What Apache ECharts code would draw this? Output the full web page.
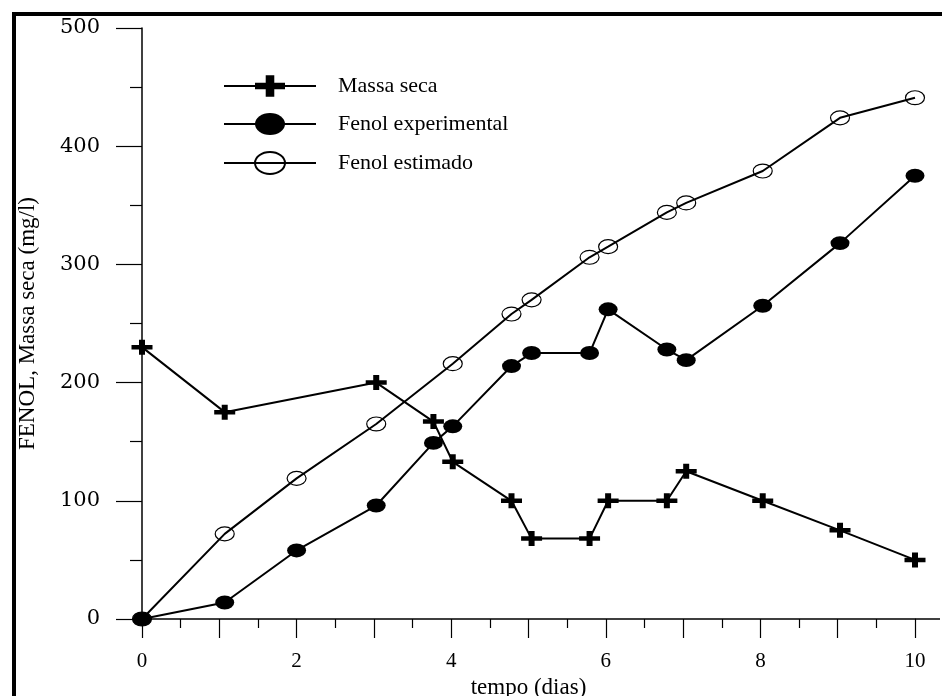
<!DOCTYPE html>
<html>
<head>
<meta charset="utf-8">
<script src="https://cdn.jsdelivr.net/npm/echarts@6/dist/echarts.min.js"></script>
<style>
html,body{margin:0;padding:0;background:#fff;}
#chart{width:942px;height:696px;}
</style>
</head>
<body>
<div id="chart"></div>
<script>
// sampling times (days)
const tempo = [0, 1.07, 2.0, 3.03, 3.77, 4.02, 4.78, 5.04, 5.79, 6.03, 6.79, 7.04, 8.03, 9.03, 10.0];
// Massa seca (mg/l)
const massaSeca = [230, 175, null, 200, 167, 133, 100, 68, 68, 100, 100, 125, 100, 75, 50];
// Fenol experimental (mg/l)
const fenolExp = [0, 14, 58, 96, 149, 163, 214, 225, 225, 262, 228, 219, 265, 318, 375];
// Fenol estimado (mg/l)
const fenolEst = [0, 72, 119, 165, null, 216, 258, 270, 306, 315, 344, 352, 379, 424, 441];

const seriesNames = ['Massa seca', 'Fenol experimental', 'Fenol estimado'];
const xLabels = [0, 2, 4, 6, 8, 10];

function pairs(vals) {
  const out = [];
  for (let i = 0; i < tempo.length; i++) {
    if (vals[i] !== null) out.push([tempo[i], vals[i]]);
  }
  return out;
}

// symbols padded into square boxes (invisible move points) so legend and plot share shape
const CROSS = 'path://M0,0M28,28M10,4H18V11H28V17H18V24H10V17H0V11H10Z';
const ELLIPSE = 'path://M0,0M30,30M0,15A15,11 0 1,1 30,15A15,11 0 1,1 0,15Z';

const serif = 'Liberation Serif, Times New Roman, serif';

const chart = echarts.init(document.getElementById('chart'), null, {renderer: 'canvas'});
const lineStyle = {color: '#000', width: 2};

chart.setOption({
  animation: false,
  backgroundColor: '#fff',
  grid: {left: 142, top: 28, right: 27, bottom: 77, containLabel: false, outerBoundsMode: 'none'},
  legend: {
    orient: 'vertical',
    left: 218,
    top: 66,
    itemWidth: 92,
    itemHeight: 37.5,
    itemGap: 8,
    selectedMode: false,
    data: seriesNames,
    textStyle: {fontFamily: serif, fontSize: 22, color: '#000', padding: [0, 0, 0, 17]}
  },
  xAxis: {
    type: 'value',
    min: 0, max: 10, interval: 1,
    name: 'tempo (dias)',
    nameLocation: 'middle',
    nameGap: 56,
    nameTextStyle: {fontFamily: serif, fontSize: 23, color: '#000'},
    axisLine: {show: true, lineStyle: {color: '#000', width: 1.5}},
    axisTick: {show: true, length: 19, lineStyle: {color: '#000', width: 1.2}},
    minorTick: {show: true, splitNumber: 2, length: 9, lineStyle: {color: '#000', width: 1.2}},
    splitLine: {show: false},
    axisLabel: {
      margin: 32, fontFamily: serif, fontSize: 21, color: '#000',
      formatter: v => (xLabels.indexOf(v) >= 0 ? String(v) : '')
    }
  },
  yAxis: {
    type: 'value',
    min: 0, max: 500, interval: 100,
    name: 'FENOL, Massa seca (mg/l)',
    nameLocation: 'middle',
    nameGap: 103,
    nameTextStyle: {fontFamily: serif, fontSize: 23, color: '#000'},
    axisLine: {show: true, lineStyle: {color: '#000', width: 1.5}},
    axisTick: {show: true, length: 26, lineStyle: {color: '#000', width: 1.2}},
    minorTick: {show: true, splitNumber: 2, length: 12, lineStyle: {color: '#000', width: 1.2}},
    splitLine: {show: false},
    axisLabel: {margin: 42, fontFamily: 'DejaVu Serif, serif', fontSize: 21, color: '#000'}
  },
  series: [
    {
      name: seriesNames[0], type: 'line', data: pairs(massaSeca),
      symbol: CROSS, symbolSize: [21, 21],
      itemStyle: {color: '#000'}, lineStyle: lineStyle, z: 3
    },
    {
      name: seriesNames[1], type: 'line', data: pairs(fenolExp),
      symbol: ELLIPSE, symbolSize: [19, 19],
      itemStyle: {color: '#000'}, lineStyle: lineStyle, z: 3
    },
    {
      name: seriesNames[2], type: 'line', data: pairs(fenolEst),
      symbol: ELLIPSE, symbolSize: [19, 19],
      itemStyle: {color: 'rgba(0,0,0,0)', borderColor: '#000', borderWidth: 1.2},
      lineStyle: lineStyle, z: 3
    }
  ]
});

// frame and x-axis line continuation beyond 10
const p10 = chart.convertToPixel({gridIndex: 0}, [10, 0]);
chart.setOption({
  graphic: [
    {type: 'rect', shape: {x: 14, y: 14, width: 1200, height: 1200}, style: {fill: 'none', stroke: '#000', lineWidth: 4}, silent: true},
    {type: 'line', shape: {x1: p10[0], y1: p10[1], x2: 940, y2: p10[1]}, style: {stroke: '#000', lineWidth: 1.5}, silent: true}
  ]
});
</script>
</body>
</html>
